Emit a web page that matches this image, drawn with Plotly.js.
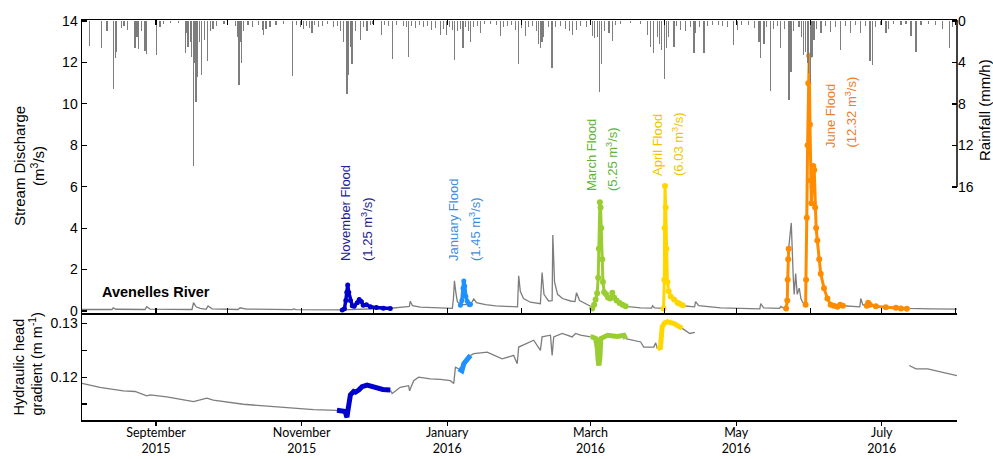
<!DOCTYPE html>
<html>
<head>
<meta charset="utf-8">
<script src="https://cdn.plot.ly/plotly-3.0.1.min.js"></script>
<style>html,body{margin:0;padding:0;background:#fff;}#chart{width:993px;height:459px;}</style>
</head>
<body>
<div id="chart"></div>
<script>
// ---------------- DATA ----------------
// Rainfall (mm/h), hanging from the top of the discharge panel
const rainTime = [
'2015-08-04 01:00','2015-08-09 06:00','2015-08-11 12:00','2015-08-14 02:00','2015-08-15 00:00','2015-08-15 12:00','2015-08-17 10:00','2015-08-18 14:00','2015-08-19 22:00','2015-08-23 05:00','2015-08-24 02:00','2015-08-24 14:00','2015-08-26 00:00','2015-08-27 10:00','2015-08-28 02:00',
'2015-09-01 07:00','2015-09-02 17:00','2015-09-04 00:00','2015-09-06 22:00','2015-09-10 07:00','2015-09-13 05:00','2015-09-13 22:00','2015-09-14 10:00','2015-09-15 07:00','2015-09-15 22:00','2015-09-16 17:00','2015-09-17 05:00','2015-09-17 19:00','2015-09-18 07:00','2015-09-19 02:00','2015-09-19 22:00','2015-09-21 05:00','2015-09-22 17:00','2015-09-23 17:00','2015-09-24 22:00','2015-09-26 05:00','2015-09-29 12:00',
'2015-10-04 05:00','2015-10-05 00:00','2015-10-05 17:00','2015-10-06 05:00','2015-10-06 17:00','2015-10-07 12:00','2015-10-09 14:00','2015-10-11 07:00','2015-10-13 19:00','2015-10-15 12:00','2015-10-16 00:00','2015-10-17 02:00','2015-10-18 19:00','2015-10-21 07:00','2015-10-24 07:00','2015-10-28 07:00','2015-10-29 17:00','2015-10-31 10:00',
'2015-11-01 17:00','2015-11-02 22:00','2015-11-04 05:00','2015-11-05 07:00','2015-11-06 07:00','2015-11-07 22:00','2015-11-09 14:00','2015-11-11 17:00','2015-11-14 05:00','2015-11-15 22:00','2015-11-17 05:00','2015-11-18 10:00','2015-11-20 00:00','2015-11-20 17:00','2015-11-21 10:00','2015-11-22 02:00','2015-11-23 12:00','2015-11-25 14:00','2015-11-26 19:00','2015-11-28 10:00','2015-11-29 19:00','2015-11-30 14:00',
'2015-12-04 10:00','2015-12-05 14:00','2015-12-07 07:00','2015-12-08 22:00','2015-12-10 17:00','2015-12-13 14:00','2015-12-14 19:00','2015-12-15 19:00','2015-12-16 22:00','2015-12-18 14:00','2015-12-20 07:00','2015-12-22 00:00','2015-12-23 17:00','2015-12-25 07:00','2015-12-27 00:00','2015-12-29 02:00','2015-12-30 10:00','2015-12-31 14:00',
'2016-01-01 22:00','2016-01-03 02:00','2016-01-04 00:00','2016-01-05 05:00','2016-01-06 12:00','2016-01-07 14:00','2016-01-08 14:00','2016-01-09 19:00','2016-01-10 17:00','2016-01-11 22:00','2016-01-13 14:00','2016-01-14 22:00','2016-01-16 14:00','2016-01-19 02:00','2016-01-21 14:00','2016-01-23 07:00','2016-01-24 12:00','2016-01-26 05:00','2016-01-27 22:00','2016-01-29 14:00','2016-01-30 22:00',
'2016-02-01 02:00','2016-02-02 17:00','2016-02-04 00:00','2016-02-05 17:00','2016-02-07 10:00','2016-02-08 05:00','2016-02-09 00:00','2016-02-09 17:00','2016-02-10 07:00','2016-02-12 10:00','2016-02-13 22:00','2016-02-15 07:00','2016-02-17 10:00','2016-02-19 12:00','2016-02-21 05:00','2016-02-22 12:00','2016-02-24 02:00','2016-02-25 19:00','2016-02-28 07:00',
'2016-03-01 17:00','2016-03-02 14:00','2016-03-03 19:00','2016-03-04 19:00','2016-03-05 14:00','2016-03-06 22:00','2016-03-08 17:00','2016-03-10 02:00','2016-03-11 12:00','2016-03-13 14:00','2016-03-17 19:00','2016-03-22 00:00','2016-03-24 22:00','2016-03-26 05:00','2016-03-27 12:00','2016-03-29 00:00','2016-03-29 22:00','2016-03-30 19:00','2016-03-31 22:00',
'2016-04-01 22:00','2016-04-02 17:00','2016-04-04 22:00','2016-04-06 02:00','2016-04-07 17:00','2016-04-09 19:00','2016-04-11 22:00','2016-04-13 07:00','2016-04-14 00:00','2016-04-15 17:00','2016-04-17 12:00','2016-04-19 00:00','2016-04-21 05:00','2016-04-23 17:00','2016-04-25 07:00','2016-04-27 10:00','2016-04-29 19:00',
'2016-05-01 12:00','2016-05-03 07:00','2016-05-06 05:00','2016-05-08 19:00','2016-05-10 14:00','2016-05-11 07:00','2016-05-12 17:00','2016-05-13 19:00','2016-05-15 12:00','2016-05-16 17:00','2016-05-18 10:00','2016-05-19 17:00','2016-05-21 07:00','2016-05-23 02:00','2016-05-23 22:00','2016-05-25 02:00','2016-05-27 07:00','2016-05-28 12:00','2016-05-29 07:00','2016-05-30 02:00','2016-05-30 22:00','2016-05-31 10:00',
'2016-06-01 00:00','2016-06-01 17:00','2016-06-02 14:00','2016-06-03 19:00','2016-06-05 12:00','2016-06-07 12:00','2016-06-09 14:00','2016-06-11 17:00','2016-06-13 19:00','2016-06-15 22:00','2016-06-18 00:00','2016-06-20 02:00','2016-06-22 05:00','2016-06-24 07:00','2016-06-26 02:00','2016-06-27 02:00','2016-06-28 12:00','2016-06-30 14:00',
'2016-07-02 17:00','2016-07-03 22:00','2016-07-06 00:00','2016-07-09 00:00','2016-07-11 02:00','2016-07-13 05:00','2016-07-15 07:00','2016-07-17 10:00','2016-07-20 17:00','2016-07-23 14:00','2016-07-26 12:00','2016-07-29 05:00','2016-07-30 14:00'
];
const rainMm = [
2.4,2.6,1.0,6.6,3.6,3.0,0.7,0.5,0.9,2.6,1.5,2.7,1.0,2.9,3.2,
3.3,0.6,0.3,0.2,0.2,3.1,1.2,2.5,2.0,3.5,14.0,4.0,7.8,5.4,2.0,5.2,1.8,3.9,1.0,0.8,0.5,0.3,
0.5,1.5,6.2,2.0,4.0,1.0,0.4,0.6,0.4,0.9,1.35,0.8,0.6,0.4,0.3,5.3,0.4,0.6,
0.8,0.5,0.7,1.2,0.4,0.6,0.5,0.3,0.6,0.5,1.0,2.0,7.0,5.2,2.5,4.1,1.0,1.8,0.6,1.0,0.4,0.3,
1.3,0.4,0.5,3.7,0.4,0.5,0.6,3.5,0.5,0.7,0.4,0.6,0.5,0.9,0.7,1.3,0.8,1.35,
0.6,0.9,3.8,1.0,0.8,2.6,0.6,1.0,2.0,0.6,0.5,1.2,0.3,0.3,0.4,1.4,0.6,0.5,0.4,0.9,4.1,
0.7,1.4,0.6,0.5,1.0,2.2,2.6,2.0,1.5,0.6,4.5,0.6,0.5,0.8,1.0,1.3,0.9,0.5,0.6,
1.4,1.6,1.5,6.8,4.1,1.0,1.2,1.9,0.4,0.3,0.2,0.3,1.3,2.5,3.1,1.5,2.2,2.8,5.6,
2.6,1.5,2.5,0.5,0.9,1.0,0.6,3.1,1.2,0.6,3.1,0.5,0.4,0.4,0.5,0.6,2.3,
0.9,0.4,0.4,0.7,2.0,3.6,2.2,0.6,6.7,0.8,0.5,2.6,0.8,7.6,4.9,1.0,0.6,1.5,3.3,3.0,4.0,5.0,
6.0,3.5,1.8,0.8,1.2,0.5,1.1,0.6,2.8,0.5,1.2,0.4,1.2,0.5,3.9,4.2,0.6,0.4,
1.2,0.8,0.3,0.4,0.3,1.4,3.0,0.4,0.3,0.4,0.8,2.6,0.6
];

// Stream discharge (m3/s), background record (null = flood window drawn in colour)
const qTime = [
'2015-08-01 00:00','2015-08-08 12:00','2015-08-13 14:00','2015-08-14 02:00','2015-08-15 07:00','2015-08-27 10:00','2015-08-28 02:00','2015-08-29 12:00',
'2015-09-16 02:00','2015-09-16 17:00','2015-09-17 19:00','2015-09-19 12:00','2015-09-22 00:00','2015-09-22 19:00','2015-09-24 12:00',
'2015-10-05 10:00','2015-10-06 05:00','2015-10-08 19:00','2015-10-28 00:00','2015-10-28 12:00','2015-10-29 17:00','2015-11-18 00:00',
'2015-12-08 03:00','2015-12-14 10:00','2015-12-16 03:00','2015-12-16 12:00','2015-12-17 10:00','2015-12-20 17:00','2015-12-29 03:00',
'2016-01-03 03:00','2016-01-03 14:00','2016-01-04 00:00','2016-01-04 14:00','2016-01-05 05:00','2016-01-06 12:00',
'2016-01-10 17:00','2016-01-12 02:00','2016-01-13 05:00','2016-01-17 00:00','2016-01-21 05:00','2016-01-25 10:00','2016-01-30 10:00','2016-01-30 22:00','2016-01-31 14:00',
'2016-02-01 22:00','2016-02-04 19:00','2016-02-09 00:00','2016-02-09 17:00','2016-02-10 12:00','2016-02-12 10:00','2016-02-13 22:00','2016-02-14 05:00','2016-02-14 22:00','2016-02-16 05:00','2016-02-18 07:00','2016-02-21 14:00','2016-02-23 12:00','2016-02-24 03:00','2016-02-25 10:00','2016-02-27 22:00','2016-03-01 10:00',
'2016-03-08 00:00',
'2016-03-15 17:00','2016-03-22 00:00','2016-03-26 14:00','2016-03-27 00:00','2016-03-27 19:00','2016-03-31 14:00',
'2016-04-05 00:00',
'2016-04-08 14:00','2016-04-13 14:00','2016-04-14 00:00','2016-04-15 07:00','2016-04-24 12:00','2016-05-02 22:00','2016-05-10 22:00','2016-05-11 07:00','2016-05-12 12:00','2016-05-19 05:00','2016-05-19 17:00','2016-05-20 22:00',
'2016-05-22 05:00','2016-05-22 19:00','2016-05-24 02:00','2016-05-24 22:00','2016-05-25 07:00','2016-05-25 22:00','2016-05-26 14:00','2016-05-27 10:00','2016-05-28 03:00','2016-05-28 22:00','2016-05-29 17:00',
'2016-06-05 00:00',
'2016-06-14 17:00','2016-06-20 02:00','2016-06-21 19:00','2016-06-22 05:00','2016-06-23 00:00','2016-06-24 17:00','2016-07-11 22:00','2016-07-21 14:00','2016-08-01 12:00'
];
const qGray = [
0.07,0.07,0.07,0.15,0.08,0.07,0.2,0.09,
0.07,0.4,0.2,0.12,0.08,0.24,0.1,
0.07,0.15,0.09,0.06,0.1,0.06,0.05,
0.13,0.2,0.22,0.47,0.25,0.18,0.13,
0.12,0.6,1.45,0.9,0.45,0.3,
0.3,0.58,0.4,0.3,0.24,0.22,0.2,1.7,0.95,
0.6,0.42,0.35,1.85,0.8,0.48,0.5,3.67,1.4,0.8,0.6,0.48,0.45,0.88,0.5,0.35,0.2,
null,
0.22,0.15,0.14,0.25,0.15,0.12,
null,
0.25,0.2,0.45,0.25,0.15,0.12,0.1,0.35,0.15,0.12,0.22,0.14,
0.14,2.8,4.25,1.6,0.8,1.8,0.8,1.1,0.6,0.4,0.35,
null,
0.25,0.2,0.2,0.6,0.3,0.25,0.12,0.1,0.09
];

// Flood events (m3/s)
const novTime = ['2015-11-18 00:00','2015-11-18 22:00','2015-11-19 12:00','2015-11-19 22:00','2015-11-20 07:00','2015-11-20 17:00','2015-11-21 10:00','2015-11-22 05:00','2015-11-23 00:00','2015-11-24 07:00','2015-11-25 03:00','2015-11-26 00:00','2015-11-26 19:00','2015-11-28 03:00','2015-11-29 19:00','2015-12-02 07:00','2015-12-05 05:00','2015-12-08 03:00'];
const novQ = [0.05,0.1,0.5,0.9,1.25,0.9,0.5,0.25,0.22,0.4,0.55,0.45,0.28,0.3,0.2,0.16,0.13,0.12];
const janTime = ['2016-01-06 12:00','2016-01-07 03:00','2016-01-07 14:00','2016-01-07 22:00','2016-01-08 07:00','2016-01-08 19:00','2016-01-09 10:00','2016-01-10 07:00','2016-01-10 17:00'];
const janQ = [0.28,0.5,1.1,1.45,1.2,0.7,0.45,0.3,0.32];
const marTime = ['2016-03-01 17:00','2016-03-02 12:00','2016-03-03 03:00','2016-03-03 19:00','2016-03-04 05:00','2016-03-04 12:00','2016-03-04 22:00','2016-03-05 05:00','2016-03-05 12:00','2016-03-05 22:00','2016-03-06 05:00','2016-03-06 17:00','2016-03-07 12:00','2016-03-08 07:00','2016-03-09 05:00','2016-03-10 03:00','2016-03-10 22:00','2016-03-11 22:00','2016-03-13 05:00','2016-03-14 10:00','2016-03-15 17:00'];
const marQ = [0.12,0.3,0.55,0.85,1.6,3.0,5.25,5.0,4.0,2.5,1.4,0.9,0.8,0.65,0.6,0.88,0.65,0.5,0.38,0.3,0.22];
const aprTime = ['2016-03-31 14:00','2016-03-31 22:00','2016-04-01 00:00','2016-04-01 05:00','2016-04-01 12:00','2016-04-01 19:00','2016-04-02 05:00','2016-04-02 17:00','2016-04-03 14:00','2016-04-05 00:00','2016-04-06 10:00','2016-04-07 07:00','2016-04-08 14:00'];
const aprQ = [0.12,1.5,4.0,6.03,5.0,3.0,1.4,0.95,0.7,0.55,0.4,0.35,0.28];
const junTime = ['2016-05-21 22:00','2016-05-22 10:00','2016-05-22 14:00','2016-05-22 19:00','2016-05-23 00:00','2016-05-26 00:00',
'2016-05-30 02:00','2016-05-30 07:00','2016-05-30 14:00','2016-05-30 22:00','2016-05-31 05:00','2016-05-31 14:00','2016-05-31 22:00','2016-06-01 05:00','2016-06-01 12:00','2016-06-01 22:00','2016-06-02 07:00','2016-06-02 17:00','2016-06-03 02:00','2016-06-03 12:00','2016-06-04 00:00','2016-06-04 19:00','2016-06-05 10:00','2016-06-06 19:00','2016-06-08 05:00','2016-06-09 14:00','2016-06-10 22:00','2016-06-12 10:00','2016-06-13 14:00','2016-06-14 17:00','2016-06-19 00:00',
'2016-06-24 17:00','2016-06-25 07:00','2016-06-26 00:00','2016-06-28 12:00','2016-07-02 17:00','2016-07-06 22:00','2016-07-09 00:00','2016-07-11 12:00'];
const junQ = [0.12,0.5,1.5,2.5,3.0,null,
0.3,1.5,4.5,8.0,11.0,12.32,9.0,6.3,5.2,6.0,7.0,6.8,5.0,4.0,3.4,2.5,1.8,1.1,0.6,0.3,0.25,0.2,0.3,0.25,null,
0.25,0.4,0.3,0.22,0.18,0.15,0.12,0.1];

// Hydraulic head gradient (m/m)
const gTime = ['2015-08-01 00:00','2015-08-08 12:00','2015-08-18 07:00','2015-08-23 05:00','2015-08-28 03:00','2015-08-29 12:00','2015-09-05 12:00','2015-09-16 17:00','2015-09-22 07:00','2015-09-25 00:00','2015-10-07 14:00','2015-10-23 00:00','2015-11-06 00:00','2015-11-15 19:00',
'2015-11-25 00:00',
'2015-12-08 03:00','2015-12-08 22:00','2015-12-12 07:00','2015-12-15 19:00','2015-12-16 05:00','2015-12-17 22:00','2015-12-20 00:00','2015-12-24 22:00','2015-12-29 02:00','2016-01-02 07:00','2016-01-03 17:00','2016-01-04 10:00','2016-01-05 19:00',
'2016-01-08 00:00',
'2016-01-10 17:00','2016-01-12 02:00','2016-01-17 17:00','2016-01-24 00:00','2016-01-28 19:00','2016-01-30 07:00','2016-01-30 22:00','2016-02-06 05:00','2016-02-09 00:00','2016-02-09 17:00','2016-02-13 05:00','2016-02-13 22:00','2016-02-14 14:00','2016-02-18 03:00','2016-02-22 07:00','2016-02-23 17:00','2016-02-25 19:00','2016-03-01 00:00',
'2016-03-08 00:00',
'2016-03-15 17:00','2016-03-22 00:00','2016-03-23 07:00','2016-03-27 12:00','2016-03-28 07:00','2016-03-29 00:00',
'2016-04-04 00:00',
'2016-04-08 10:00','2016-04-09 12:00','2016-04-11 14:00','2016-04-13 17:00',
'2016-06-01 00:00',
'2016-07-12 12:00','2016-07-15 07:00','2016-07-20 05:00','2016-07-27 03:00','2016-08-01 12:00'];
const gGray = [0.11883,0.11808,0.11745,0.11732,0.11651,0.1167,0.11632,0.11543,0.11608,0.1157,0.11494,0.11443,0.11392,0.11381,
null,
0.11758,0.11694,0.1181,0.1184,0.11745,0.11934,0.12,0.11966,0.1196,0.11934,0.11883,0.12185,0.12155,
null,
0.12406,0.12438,0.12468,0.12343,0.12406,0.12249,0.12562,0.12689,0.125,0.12751,0.12783,0.12406,0.12751,0.12815,0.1275,0.12815,0.12783,0.1275,
null,
0.1272,0.12657,0.12562,0.12562,0.1264,0.1253,
null,
0.1291,0.12877,0.12815,0.12834,
null,
0.12217,0.12155,0.12155,0.1209,0.12028];
const gNovTime = ['2015-11-15 19:00','2015-11-17 05:00','2015-11-19 07:00','2015-11-19 17:00','2015-11-20 00:00','2015-11-20 07:00','2015-11-20 17:00','2015-11-21 10:00','2015-11-22 19:00','2015-11-23 12:00','2015-11-24 22:00','2015-11-26 07:00','2015-11-28 10:00','2015-12-01 03:00','2015-12-03 22:00','2015-12-05 00:00','2015-12-08 03:00'];
const gNov = [0.11381,0.1138,0.1136,0.1128,0.11255,0.1135,0.11525,0.1167,0.11732,0.1172,0.1176,0.11821,0.11853,0.1181,0.11777,0.1177,0.11758];
const gJanTime = ['2016-01-05 19:00','2016-01-06 12:00','2016-01-07 03:00','2016-01-07 22:00','2016-01-09 00:00','2016-01-10 17:00'];
const gJan = [0.12155,0.12123,0.1212,0.1225,0.1232,0.12406];
const gMarTime = ['2016-03-01 00:00','2016-03-01 17:00','2016-03-03 03:00','2016-03-03 19:00','2016-03-04 05:00','2016-03-04 12:00','2016-03-04 22:00','2016-03-05 07:00','2016-03-08 03:00','2016-03-12 05:00','2016-03-15 00:00','2016-03-15 17:00'];
const gMar = [0.1275,0.1275,0.1272,0.1255,0.123,0.12217,0.1235,0.1272,0.12783,0.1276,0.12783,0.1272];
const gAprTime = ['2016-03-29 00:00','2016-03-30 07:00','2016-03-31 00:00','2016-04-01 00:00','2016-04-02 05:00','2016-04-05 00:00','2016-04-08 10:00'];
const gApr = [0.1253,0.1255,0.1294,0.1301,0.13034,0.13,0.1291];

// Axis tick labels
const monthTicks = ['2015-09-01','2015-11-01','2016-01-01','2016-03-01','2016-05-01','2016-07-01'];
const monthLabels = ['September<br>2015','November<br>2015','January<br>2016','March<br>2016','May<br>2016','July<br>2016'];
const qTicks = [0,2,4,6,8,10,12,14];
const rainTicks = [0,4,8,12,16];
const gTicks = [0.115,0.12,0.125,0.13];
const gTickText = ['','0.12','','0.13'];
const xRange = ['2015-08-01 00:00','2016-08-01 12:00'];

// ---------------- STYLE ----------------
const GRAY = '#7d7d7d';
const C = {nov:'#0000cd', jan:'#1e90ff', mar:'#9acd32', apr:'#ffd700', jun:'#ff8c00'};
const LBL = {nov:'#23238f', jan:'#3f8ddc', mar:'#5db535', apr:'#f3c300', jun:'#ef7d2a'};
const FONT = 'Liberation Sans, Arial, sans-serif';

function flood(x, y, color, xa, ya, lw, ms) {
  return {type:'scatter', mode: ms ? 'lines+markers' : 'lines', x:x, y:y, xaxis:xa, yaxis:ya,
    line:{color:color, width:lw}, marker:{color:color, size:ms}, connectgaps:false, hoverinfo:'skip'};
}

const traces = [
  {type:'bar', x:rainTime, y:rainMm, xaxis:'x', yaxis:'y2', width:4.6e7,
   marker:{color:GRAY, line:{width:0}}, hoverinfo:'skip'},
  {type:'scatter', mode:'lines', x:qTime, y:qGray, xaxis:'x', yaxis:'y',
   line:{color:GRAY, width:1.3}, connectgaps:false, hoverinfo:'skip'},
  flood(novTime, novQ, C.nov, 'x', 'y', 3.5, 5),
  flood(janTime, janQ, C.jan, 'x', 'y', 3.5, 5),
  flood(marTime, marQ, C.mar, 'x', 'y', 3, 6),
  flood(aprTime, aprQ, C.apr, 'x', 'y', 3, 6),
  flood(junTime, junQ, C.jun, 'x', 'y', 3, 6),
  {type:'scatter', mode:'lines', x:gTime, y:gGray, xaxis:'x2', yaxis:'y3',
   line:{color:GRAY, width:1.3}, connectgaps:false, hoverinfo:'skip'},
  flood(gNovTime, gNov, C.nov, 'x2', 'y3', 5, 0),
  flood(gJanTime, gJan, C.jan, 'x2', 'y3', 5, 0),
  flood(gMarTime, gMar, C.mar, 'x2', 'y3', 5, 0),
  flood(gAprTime, gApr, C.apr, 'x2', 'y3', 5, 0)
];

function rot(text, x, y, color, size, xanchor, yanchor, extra) {
  return Object.assign({text:text, xref:'paper', yref:'paper', x:x, y:y, textangle:-90,
    showarrow:false, xanchor:xanchor, yanchor:yanchor, align:'left',
    font:{family:FONT, size:size, color:color}}, extra || {});
}

const annotations = [
  rot('November Flood', 0.3006, 0.3925, LBL.nov, 13, 'center', 'bottom'),
  rot('(1.25 m<sup>3</sup>/s)', 0.3257, 0.3925, LBL.nov, 13, 'center', 'bottom'),
  rot('January Flood', 0.424, 0.3925, LBL.jan, 13, 'center', 'bottom'),
  rot('(1.45 m<sup>3</sup>/s)', 0.4491, 0.3925, LBL.jan, 13, 'center', 'bottom'),
  rot('March Flood', 0.5817, 0.5675, LBL.mar, 13, 'center', 'bottom'),
  rot('(5.25 m<sup>3</sup>/s)', 0.6057, 0.5675, LBL.mar, 13, 'center', 'bottom'),
  rot('April Flood', 0.6571, 0.605, LBL.apr, 13, 'center', 'bottom'),
  rot('(6.03 m<sup>3</sup>/s)', 0.6811, 0.605, LBL.apr, 13, 'center', 'bottom'),
  rot('June Flood', 0.856, 0.675, LBL.jun, 13, 'center', 'bottom'),
  rot('(12.32 m<sup>3</sup>/s)', 0.8789, 0.675, LBL.jun, 13, 'center', 'bottom'),
  rot('Stream Discharge<br>(m<sup>3</sup>/s)', -0.0606, 0.635, '#000', 15, 'center', 'middle', {align:'center'}),
  rot('Hydraulic head<br>gradient (m m<sup>-1</sup>)', -0.0617, 0.005, '#000', 14.5, 'center', 'bottom'),
  rot('Rainfall (mm/h)', 1.032, 0.775, '#000', 15, 'center', 'middle'),
  {text:'<b>Avenelles River</b>', xref:'paper', yref:'paper', x:0.0206, y:0.32, showarrow:false,
   xanchor:'left', yanchor:'middle', font:{family:FONT, size:14.5, color:'#000'}}
];

const axisBase = {showgrid:false, zeroline:false, showline:true, linecolor:'#000', linewidth:1.5,
  tickcolor:'#000', ticklen:5, tickwidth:1.2, tickfont:{family:FONT, size:14, color:'#000'}};

const layout = {
  width:993, height:459,
  margin:{l:82, r:36, t:20, b:39, pad:0},
  paper_bgcolor:'#fff', plot_bgcolor:'rgba(0,0,0,0)',
  showlegend:false, bargap:0,
  font:{family:FONT, size:14, color:'#000'},
  xaxis: Object.assign({}, axisBase, {domain:[0,1], anchor:'y', type:'date', range:xRange,
    mirror:'ticks', ticks:'inside', tick0:'2015-08-01', dtick:'M1', showticklabels:false}),
  yaxis: Object.assign({}, axisBase, {domain:[0.2675,1], anchor:'x', range:[-0.1,14.05],
    tickmode:'array', tickvals:qTicks, ticks:'inside'}),
  yaxis2: Object.assign({}, axisBase, {overlaying:'y', anchor:'x', side:'right', range:[28.15,-0.1],
    tickmode:'array', tickvals:rainTicks, ticks:'inside', showline:false}),
  xaxis2: Object.assign({}, axisBase, {domain:[0,1], anchor:'y3', type:'date', range:xRange,
    tickmode:'array', tickvals:monthTicks, ticktext:monthLabels, ticks:'outside', ticklen:4,
    ticklabelstandoff:-4,
    tickfont:{family:'Lato, Open Sans, sans-serif', size:12.5, color:'#000'}}),
  yaxis3: Object.assign({}, axisBase, {domain:[0,0.2625], anchor:'x2', range:[0.112,0.1316],
    tickmode:'array', tickvals:gTicks, ticktext:gTickText, ticks:'inside'}),
  shapes:[{type:'line', xref:'paper', yref:'y2', x0:1, x1:1, y0:-0.1, y1:16,
    line:{color:'#000', width:1.5}}],
  annotations: annotations
};

Plotly.newPlot('chart', traces, layout, {staticPlot:true, displayModeBar:false});
</script>
</body>
</html>
